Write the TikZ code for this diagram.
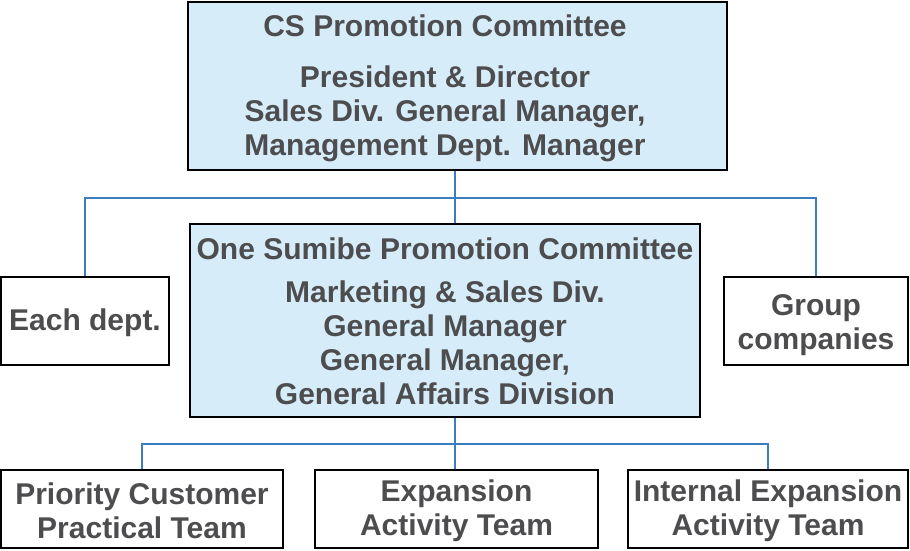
\documentclass[tikz,border=0pt]{standalone}
\usepackage{fontspec}
\setmainfont{Liberation Sans}
\usepackage{tikz}
\usetikzlibrary{calc}

\definecolor{boxblue}{HTML}{D6ECF8}
\definecolor{linkblue}{HTML}{3C7DC0}
\definecolor{txtgray}{HTML}{4D4D4F}

\begin{document}
\begin{tikzpicture}[x = 1pt, y = -1pt,
  box/.style = {draw = black, line width = 2pt, inner sep = 0pt, fill = white},
  bluebox/.style = {box, fill = boxblue},
  label/.style = {text = txtgray, align = center, inner sep = 0pt,
    font = \fontsize{30}{34}\selectfont\bfseries},
  link/.style = {draw = linkblue, line width = 2pt}]
\useasboundingbox (0, 0) rectangle (910, 550);
% boxes
\node[bluebox, minimum width = 539pt, minimum height = 168pt] (cs) at (457.5, 86) {};
\node[bluebox, minimum width = 510pt, minimum height = 193pt] (one) at (445, 320.5) {};
\node[box, minimum width = 168pt, minimum height = 88pt] (dept) at (85, 321) {};
\node[box, minimum width = 184pt, minimum height = 88pt] (group) at (816, 321) {};
\node[box, minimum width = 282pt, minimum height = 78pt] (prio) at (142, 509) {};
\node[box, minimum width = 283pt, minimum height = 78pt] (exp) at (456.5, 509) {};
\node[box, minimum width = 280pt, minimum height = 78pt] (intl) at (768, 509) {};
% texts
\node[label] (cstitle) at (445, 26) {CS Promotion Committee};
\node[label] (csbody) at (445, 114) {President \& Director\\Sales Div. General Manager,\\Management Dept. Manager};
\node[label] (onetitle) at (445, 249) {One Sumibe Promotion Committee};
\node[label] (onebody) at (445, 343) {Marketing \& Sales Div.\\General Manager\\General Manager,\\General Affairs Division};
\node[label] (depttext) at (85, 323) {Each dept.};
\node[label] (grouptext) at (816, 325) {Group\\companies};
\node[label] (priotext) at (142, 511) {Priority Customer\\Practical Team};
\node[label] (exptext) at (456.5, 511) {Expansion\\Activity Team};
\node[label] (intltext) at (768, 511) {Internal Expansion\\Activity Team};
% connectors
\coordinate (top) at (455, 198);
\coordinate (bottom) at (455, 444);
\draw[link] (cs.south -| top) -- (top);
\draw[link] (top) -- (one.north -| top);
\draw[link] (dept.north) |- (top) -| (group.north);
\draw[link] (one.south -| bottom) -- (bottom);
\draw[link] (bottom) -- (exp.north -| bottom);
\draw[link] (prio.north) |- (bottom) -| (intl.north);
\end{tikzpicture}
\end{document}
